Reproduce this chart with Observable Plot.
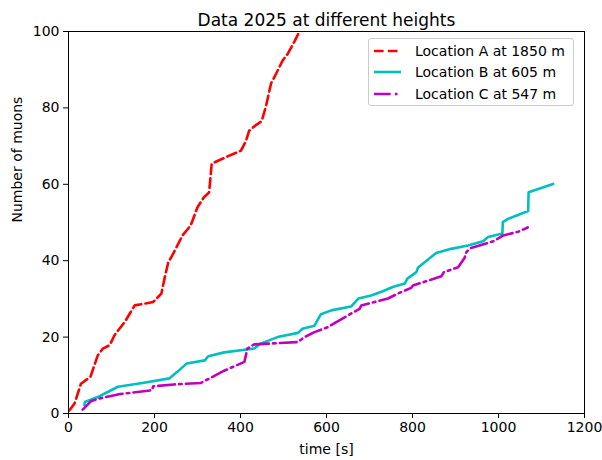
<!DOCTYPE html>
<html><head><meta charset="utf-8">
<script src="https://cdn.jsdelivr.net/npm/d3@7"></script>
<script src="https://cdn.jsdelivr.net/npm/@observablehq/plot@0.6"></script>
<style>
body{margin:0;background:#fff}
#wrap{position:relative;width:602px;height:460px;font-family:"DejaVu Sans",sans-serif}
#legend{position:absolute;left:368px;top:38px;width:204px;height:66px;border:1px solid #cccccc;border-radius:3px;background:rgba(255,255,255,0.8);box-sizing:content-box}
.row{position:absolute;left:0;height:20px;display:flex;align-items:center;font-size:14px;color:#000;white-space:nowrap}
.row svg{margin-left:5px;margin-right:14px}
</style>
</head><body><div id="wrap"></div>
<script>
const title = "Data 2025 at different heights";
const xLabel = "time [s]";
const yLabel = "Number of muons";
const xTicks = [0, 200, 400, 600, 800, 1000, 1200];
const yTicks = [0, 20, 40, 60, 80, 100];
const seriesNames = ["Location A at 1850 m", "Location B at 605 m", "Location C at 547 m"];

const aTime  = [2, 14, 29, 51, 68, 80, 96, 107, 131, 154, 197, 216, 224, 232, 239, 245, 265, 284, 300, 315, 327, 333, 370, 401, 413, 420, 436, 449, 459, 471, 479, 498, 510, 525, 537, 545];
const aCount = [0.8, 2.6, 7.8, 9.6, 15.2, 17, 17.9, 20.5, 24, 28.3, 29.2, 31.4, 35.7, 39.6, 40.9, 42.2, 46.6, 49.2, 54, 56.6, 57.9, 65.4, 67.3, 68.8, 71.4, 74, 75.5, 76.5, 80.3, 86.4, 88.1, 92.4, 94.2, 97.3, 100, 101.5];

const bTime  = [37, 38, 68, 82, 115, 172, 235, 253, 270, 275, 317, 325, 362, 432, 447, 486, 534, 544, 572, 587, 611, 657, 674, 704, 731, 754, 782, 788, 809, 813, 855, 890, 929, 964, 976, 1009, 1010, 1023, 1069, 1070, 1127];
const bCount = [2.2, 3.0, 4.3, 5.1, 7.0, 8.0, 9.2, 10.9, 12.6, 13.1, 13.9, 15.0, 16.0, 17.0, 18.3, 20.0, 21.1, 22.2, 23.0, 26.0, 27.0, 28.0, 30.1, 30.9, 32.0, 33.1, 34.0, 35.3, 37.0, 38.2, 42.0, 43.1, 44.0, 45.1, 46.2, 47.1, 50.1, 51.0, 53.0, 57.9, 60.1];

const cTime  = [33, 53, 71, 115, 194, 197, 245, 308, 362, 409, 416, 432, 533, 549, 572, 603, 650, 677, 681, 743, 766, 797, 801, 867, 873, 906, 921, 925, 933, 988, 1011, 1046, 1068];
const cCount = [1.0, 3.3, 3.9, 5.0, 6.1, 7.1, 7.6, 8.0, 11.2, 13.5, 17.0, 18.1, 18.7, 20.0, 21.3, 22.6, 25.7, 27.4, 28.3, 30.1, 31.4, 32.9, 33.5, 35.9, 37.0, 38.3, 40.7, 42.2, 43.2, 45.1, 46.6, 47.6, 48.7];

const times = [aTime, bTime, cTime];
const counts = [aCount, bCount, cCount];
const styles = [
  {stroke: "#ff0000", strokeDasharray: "9.6,4.2"},
  {stroke: "#00bfbf", strokeDasharray: null},
  {stroke: "#bf00bf", strokeDasharray: "16.7,4.2,2.6,4.2"}
];

const rows = [];
seriesNames.forEach((s, i) => times[i].forEach((t, j) => rows.push({series: s, t, n: counts[i][j]})));

const lineMarks = seriesNames.map((s, i) => Plot.line(rows.filter(d => d.series === s), {
  x: "t", y: "n", stroke: styles[i].stroke, strokeWidth: 2.6,
  strokeDasharray: styles[i].strokeDasharray || undefined, clip: true, strokeLinejoin: "round"
}));

const chart = Plot.plot({
  width: 602, height: 460,
  marginTop: 31, marginBottom: 47, marginLeft: 68, marginRight: 18,
  x: {domain: [0, 1200]},
  y: {domain: [0, 100]},
  style: {fontFamily: "DejaVu Sans", fontSize: "14px", color: "black", background: "white"},
  marks: [
    ...lineMarks,
    Plot.frame({stroke: "black", strokeWidth: 1}),
    Plot.axisX({ticks: xTicks, tickSize: 5, tickPadding: 4, label: null, fontSize: 14, tickFormat: d => String(d)}),
    Plot.axisY({ticks: yTicks, tickSize: 5, tickPadding: 4, label: null, fontSize: 14, tickFormat: d => String(d)}),
    Plot.text([title], {frameAnchor: "top", lineAnchor: "bottom", dy: -6, fontSize: 17, text: d => d}),
    Plot.text([xLabel], {frameAnchor: "bottom", lineAnchor: "middle", dy: 36, fontSize: 14, text: d => d}),
    Plot.text([yLabel], {frameAnchor: "left", lineAnchor: "middle", rotate: -90, dx: -51, fontSize: 14, text: d => d})
  ]
});

const wrap = document.getElementById("wrap");
wrap.appendChild(chart);

const legend = document.createElement("div");
legend.id = "legend";
seriesNames.forEach((s, i) => {
  const row = document.createElement("div");
  row.className = "row";
  row.style.top = (2 + i * 21.3) + "px";
  const dash = styles[i].strokeDasharray ? `stroke-dasharray="${styles[i].strokeDasharray}"` : "";
  row.innerHTML = `<svg width="27" height="6"><line x1="0" y1="3" x2="27" y2="3" stroke="${styles[i].stroke}" stroke-width="2.6" ${dash}/></svg><span>${s}</span>`;
  legend.appendChild(row);
});
wrap.appendChild(legend);
</script>
</body></html>
